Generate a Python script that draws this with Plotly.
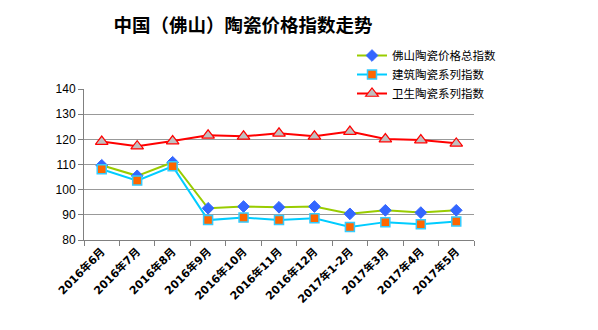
import plotly.graph_objects as go

# Monthly ceramic price indices, Foshan
months = ["2016年6月", "2016年7月", "2016年8月", "2016年9月", "2016年10月", "2016年11月",
          "2016年12月", "2017年1-2月", "2017年3月", "2017年4月", "2017年5月"]
total_index = [109.7, 105.5, 110.9, 92.6, 93.3, 93.0, 93.3, 90.4, 91.8, 90.9, 91.8]
building_index = [108.1, 103.6, 109.3, 87.9, 88.9, 87.9, 88.6, 85.2, 87.1, 86.3, 87.4]
sanitary_index = [119.1, 117.3, 119.3, 121.6, 121.2, 122.4, 121.2, 123.1, 120.1, 119.7, 118.4]

series_names = ["佛山陶瓷价格总指数", "建筑陶瓷系列指数", "卫生陶瓷系列指数"]
y_ticks = [80, 90, 100, 110, 120, 130, 140]

font_cjk = "Noto Sans CJK SC, SimSun, sans-serif"

fig = go.Figure()
fig.add_trace(go.Scatter(
    x=months, y=total_index, name=series_names[0], mode="lines+markers",
    line=dict(color="#99CC00", width=2),
    marker=dict(symbol="diamond", size=9, color="#3366FF", line=dict(color="#3366FF", width=1)),
))
fig.add_trace(go.Scatter(
    x=months, y=building_index, name=series_names[1], mode="lines+markers",
    line=dict(color="#00CCFF", width=2),
    marker=dict(symbol="square", size=9, color="#FF6600", line=dict(color="#33CCFF", width=1.5)),
))
fig.add_trace(go.Scatter(
    x=months, y=sanitary_index, name=series_names[2], mode="lines+markers",
    line=dict(color="#FF0000", width=2),
    marker=dict(symbol="triangle-up", size=11, color="#C0C0C0", line=dict(color="#FF0000", width=1.2)),
))

fig.update_layout(
    width=598, height=330,
    margin=dict(l=84, r=124, t=89, b=90),
    paper_bgcolor="white", plot_bgcolor="white",
    title=dict(text="<b>中国（佛山）陶瓷价格指数走势</b>", x=243 / 598, xanchor="center",
               y=1 - 26 / 330, yanchor="middle",
               font=dict(family=font_cjk, size=18.5, color="black")),
    legend=dict(x=(352 - 84) / 390, y=(240 - 41) / 151, xanchor="left", yanchor="top",
                font=dict(family=font_cjk, size=11.5, color="black"),
                bgcolor="rgba(0,0,0,0)", itemwidth=30, tracegroupgap=0),
    showlegend=True,
)
fig.update_xaxes(
    type="category", tickangle=-45, tickson="boundaries",
    ticks="outside", ticklen=5, tickcolor="#808080",
    showline=True, linecolor="#808080", linewidth=1,
    showgrid=False, range=[-0.5, len(months) - 0.5],
    tickfont=dict(family="DejaVu Sans, Noto Sans CJK SC, sans-serif", size=11,
                  color="black", weight="bold"),
)
fig.update_yaxes(
    range=[80, 140], tickvals=y_ticks,
    ticks="outside", ticklen=5, tickcolor="#808080",
    showline=True, linecolor="#808080", linewidth=1,
    showgrid=True, gridcolor="#999999", gridwidth=1, zeroline=False,
    tickfont=dict(family="Liberation Sans, Arial, sans-serif", size=12, color="black"),
)

fig.write_html("out.html")
